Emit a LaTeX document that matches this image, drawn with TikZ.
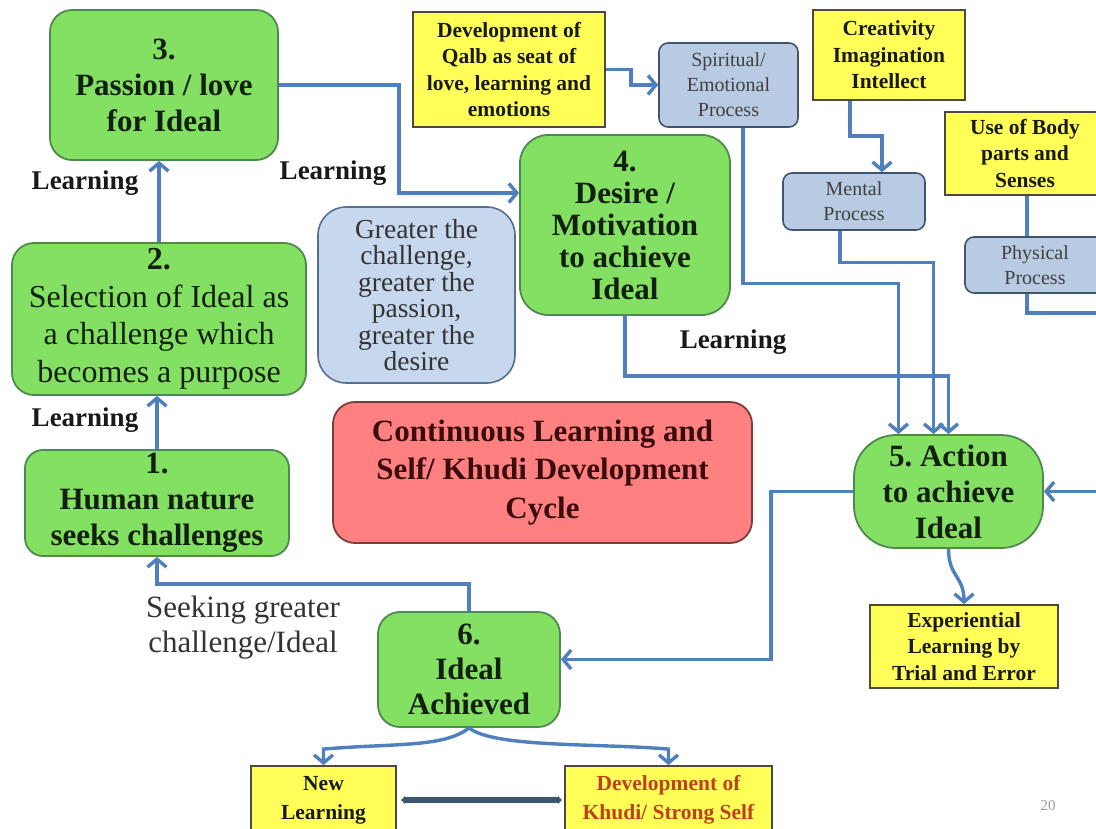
\documentclass[tikz,border=0pt]{standalone}
\usepackage{fontspec}
\setmainfont{Liberation Serif}
\usepackage{tikz}
\usetikzlibrary{arrows.meta,calc}
\definecolor{stagefill}{HTML}{84E062}
\definecolor{stageedge}{HTML}{4E8A50}
\definecolor{notefill}{HTML}{FFFF58}
\definecolor{noteedge}{HTML}{4A4A40}
\definecolor{procfill}{HTML}{B8CBE3}
\definecolor{procedge}{HTML}{40546E}
\definecolor{hintfill}{HTML}{C7D8EE}
\definecolor{hintedge}{HTML}{56708F}
\definecolor{cyclefill}{HTML}{FF8080}
\definecolor{cycleedge}{HTML}{7A3C3C}
\definecolor{cycleink}{HTML}{3A0C0C}
\definecolor{flow}{HTML}{4F7FBC}
\definecolor{darkflow}{HTML}{3B5670}
\definecolor{khudiink}{HTML}{C0401C}
\definecolor{inkdark}{HTML}{14200F}

\begin{document}
\begin{tikzpicture}[x=1pt,y=-1pt,
  wh/.style 2 args={minimum width=#1pt,minimum height=#2pt},
  stage/.style={draw=stageedge,line width=1.8pt,fill=stagefill,rounded corners=22pt,align=center,inner sep=0pt,text=inkdark,font=\bfseries\fontsize{31}{36}\selectfont},
  note/.style={draw=noteedge,line width=1.8pt,fill=notefill,align=center,inner sep=0pt,text=black!90,font=\bfseries\fontsize{21.5}{26.5}\selectfont},
  proc/.style={draw=procedge,line width=1.6pt,fill=procfill,rounded corners=9pt,align=center,inner sep=0pt,text=black!75,font=\fontsize{20}{25}\selectfont},
  lbl/.style={text=black!90,font=\bfseries\fontsize{27}{32}\selectfont},
  flowline/.style={draw=flow,line width=3.4pt,-{Straight Barb[length=8pt,width=19pt]}}]
\path[use as bounding box,fill=white] (0,0) rectangle (1096,829);
\clip (0,0) rectangle (1096,829);

% cycle stages
\node[stage,wh={228}{150}] (n3) at (164,85) {3.\\Passion / love\\for Ideal};
\node[stage,wh={294}{152},font=\fontsize{32}{37.5}\selectfont] (n2) at (159,319) {\textbf{2.}\\Selection of Ideal as\\a challenge which\\becomes a purpose};
\node[stage,wh={264}{106},rounded corners=18pt] (n1) at (157,503) {1.\\Human nature\\seeks challenges};
\node[stage,wh={210}{180},rounded corners=28pt,font=\bfseries\fontsize{31}{32}\selectfont] (n4) at (625,225) {4.\\Desire /\\Motivation\\to achieve\\Ideal};
\node[stage,wh={189}{113},rounded corners=42pt] (n5) at (948.5,491.5) {5.\ Action\\to achieve\\Ideal};
\node[stage,wh={182}{115},font=\bfseries\fontsize{31}{35}\selectfont] (n6) at (469,669.5) {6.\\Ideal\\Achieved};

% side notes and processes
\node[note,wh={192}{115}] (qalb) at (509,69.5) {Development of\\Qalb as seat of\\love, learning and\\emotions};
\node[proc,wh={139}{84}] (spirit) at (728.5,85) {Spiritual/\\Emotional\\Process};
\node[note,wh={152}{90}] (creat) at (889,55) {Creativity\\Imagination\\Intellect};
\node[proc,wh={142}{57}] (mental) at (854,201.5) {Mental\\Process};
\node[note,wh={160}{83}] (body) at (1025,153.5) {Use of Body\\parts and\\Senses};
\node[proc,wh={140}{56}] (phys) at (1035,265) {Physical\\Process};
\node[note,wh={188}{83}] (exper) at (964,646.5) {Experiential\\Learning by\\Trial and Error};
\node[note,wh={145}{68},font=\bfseries\fontsize{21.5}{29}\selectfont] (newl) at (323.5,800) {New\\Learning};
\node[note,wh={207}{68},text=khudiink,font=\bfseries\fontsize{21.5}{29}\selectfont] (devk) at (668.5,800) {Development of\\Khudi/ Strong Self};

\node[proc,wh={197}{176},fill=hintfill,draw=hintedge,rounded corners=28pt,text=black!80,font=\fontsize{27.5}{26.5}\selectfont] (hint) at (416.5,295) {Greater the\\challenge,\\greater the\\passion,\\greater the\\desire};
\node[draw=cycleedge,line width=1.8pt,fill=cyclefill,rounded corners=22pt,align=center,text=cycleink,font=\bfseries\fontsize{31}{38.5}\selectfont,wh={419}{141}] (cycle) at (542.5,472.5) {Continuous Learning and\\Self/ Khudi Development\\Cycle};

\foreach \n/\x/\y in {lA/85/183,lB/333/173,lC/85/420,lD/733/342}{
  \node[lbl] (\n) at (\x,\y) {Learning};
}
\node[align=center,text=black!80,font=\fontsize{31}{35}\selectfont] (seek) at (243,628) {Seeking greater\\challenge/Ideal};
\node[text=black!40,font=\fontsize{15}{17}\selectfont] (pg) at (1048,806) {20};

\coordinate (offR) at (1112,313);

% connectors
\draw[flowline] (n1.north) -- (n1.north |- n2.south);
\draw[flowline] (n2.north) -- (n2.north |- n3.south);
\draw[flowline] (n3.east) -- ++(120,0) |- ([yshift=32pt]n4.west);
\draw[flowline] (qalb.east) -- ++(25,0) |- (spirit.west);
\draw[flowline] (creat.south) ++(-39,0) -- ++(0,35) -| ([xshift=28pt]mental.north);
\draw[flowline] ([xshift=14.5pt]spirit.south) -- ++(0,156) -| ([xshift=-50pt]n5.north);
\draw[flowline] ([xshift=-14pt]mental.south) -- ++(0,32) -| ([xshift=-15pt]n5.north);
\draw[flowline] (n4.south) -- ++(0,60) -| (n5.north);
\draw[flow,line width=3.4pt] ([xshift=2pt]body.south) -- ([xshift=2pt]body.south |- phys.north);
\draw[flowline] ([xshift=-8pt]phys.south) |- (offR) |- (n5.east);
\draw[flowline] (n5.west) -- ++(-82,0) |- ([yshift=10pt]n6.east);
\draw[flowline] (n6.north) -- ++(0,-27) -| (n1.south);
\draw[flowline] (n5.south) .. controls +(0,28) and +(0,-28) .. (exper.north);
\draw[flowline] (n6.south) .. controls +(-25,20) and +(70,-6) .. ([yshift=16pt]newl.north) -- (newl.north);
\draw[flowline] (n6.south) .. controls +(25,20) and +(-70,-6) .. ([yshift=16pt]devk.north) -- (devk.north);
\draw[darkflow,line width=6pt,{Latex[length=4pt,width=9pt]}-{Latex[length=4pt,width=9pt]},shorten <=4pt,shorten >=2pt] (newl.east) -- (devk.west);
\end{tikzpicture}
\end{document}
